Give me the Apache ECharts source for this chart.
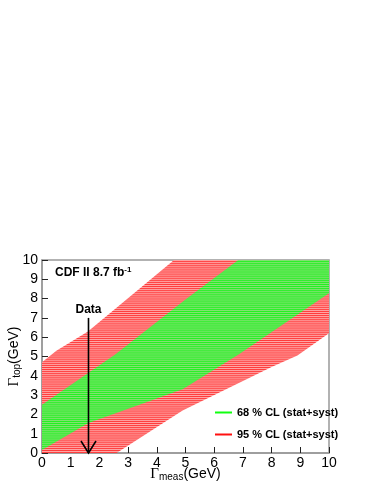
<!DOCTYPE html>
<html>
<head>
<meta charset="utf-8">
<script src="https://cdn.jsdelivr.net/npm/echarts@6/dist/echarts.min.js"></script>
<style>
  html, body { margin: 0; padding: 0; background: #fff; }
  #chart { width: 374px; height: 484px; }
</style>
</head>
<body>
<div id="chart"></div>
<script>
// band edges, as [Γmeas, Γtop] in GeV
var red95Upper = [[0, 4.7], [0.5, 5.3], [1.6, 6.3], [4.6, 10]];
var red95Lower = [[2.6, 0], [4.9, 2.2], [8.0, 4.45], [8.9, 5.05], [10, 6.2]];
var green68Upper = [[0, 2.5], [2.55, 5.1], [5.0, 7.95], [6.84, 10]];
var green68Lower = [[0, 0.15], [1.62, 1.55], [4.9, 3.3], [6.85, 5.1], [10, 8.28]];

// measured width and where the arrow starts
var dataMeas = 1.62;
var dataArrowTop = 7.0;

var axisTicks = [0, 1, 2, 3, 4, 5, 6, 7, 8, 9, 10];

// band outlines (closed polygons)
var redPoly = [[0, 0]].concat(red95Upper, [[10, 10]], red95Lower.slice().reverse());
var greenPoly = green68Upper.concat([[10, 10]], green68Lower.slice().reverse());

// horizontal stripes like the root histogram rows
function stripes(bg, fg) {
    var c = document.createElement('canvas');
    c.width = 4;
    c.height = 193;
    var ctx = c.getContext('2d');
    ctx.fillStyle = bg;
    ctx.fillRect(0, 0, 4, 193);
    ctx.fillStyle = fg;
    for (var y = 0.3; y < 193; y += 1.93) {
        ctx.fillRect(0, y, 4, 1.05);
    }
    return c;
}
var redFill = { image: stripes('#ffb4b4', '#ff3c3c'), repeat: 'repeat' };
var greenFill = { image: stripes('#92e07e', '#22f022'), repeat: 'repeat' };

function bandRender(poly, fill) {
    return function (params, api) {
        return {
            type: 'polygon',
            shape: { points: poly.map(function (p) { return api.coord(p); }) },
            style: { fill: fill, stroke: null }
        };
    };
}

var font = 'Liberation Sans, Arial, sans-serif';
var myChart = echarts.init(document.getElementById('chart'));

var option = {
    animation: false,
    grid: {
        left: 42, right: 45, top: 260, bottom: 31,
        outerBoundsMode: 'none', containLabel: false,
        show: true, borderColor: '#999', borderWidth: 1.5, backgroundColor: 'transparent'
    },
    legend: {
        left: 210, top: 402, orient: 'vertical', itemGap: 11,
        icon: 'rect', itemWidth: 17, itemHeight: 2,
        textStyle: { fontFamily: font, fontWeight: 'bold', fontSize: 11, color: '#000' },
        data: ['68 % CL (stat+syst)', '95 % CL (stat+syst)']
    },
    xAxis: {
        type: 'value', min: 0, max: 10, interval: 1,
        axisLine: { lineStyle: { color: '#999', width: 1.5 } },
        axisTick: { inside: true, length: 6, lineStyle: { color: '#222' } },
        axisLabel: {
            fontFamily: font, fontSize: 14, color: '#000', margin: 3,
            formatter: function (v) { return axisTicks.indexOf(v) >= 0 ? String(v) : ''; }
        },
        splitLine: { show: false },
        name: '{g|Γ}{s|meas}{u|(GeV)}',
        nameLocation: 'middle', nameGap: 13, nameMoveOverlap: false,
        nameTextStyle: {
            rich: {
                g: { fontFamily: 'Liberation Serif, serif', fontSize: 15, color: '#000' },
                s: { fontFamily: font, fontSize: 10, color: '#000', verticalAlign: 'bottom', padding: [6, 0, 0, 0] },
                u: { fontFamily: font, fontSize: 14, color: '#000' }
            }
        }
    },
    yAxis: {
        type: 'value', min: 0, max: 10, interval: 1,
        axisLine: { lineStyle: { color: '#999', width: 1.5 } },
        axisTick: { inside: true, length: 6, lineStyle: { color: '#222' } },
        axisLabel: { fontFamily: font, fontSize: 14, color: '#000', margin: 4 },
        splitLine: { show: false },
        name: '{g|Γ}{s|top}{u|(GeV)}',
        nameLocation: 'middle', nameGap: 20, nameRotate: 90, nameMoveOverlap: false,
        nameTextStyle: {
            rich: {
                g: { fontFamily: 'Liberation Serif, serif', fontSize: 15, color: '#000' },
                s: { fontFamily: font, fontSize: 10, color: '#000', verticalAlign: 'bottom', padding: [6, 0, 0, 0] },
                u: { fontFamily: font, fontSize: 14, color: '#000' }
            }
        }
    },
    series: [
        {
            name: '95 % CL (stat+syst)', type: 'custom', data: [[0, 0]],
            itemStyle: { color: '#ff1010' },
            renderItem: bandRender(redPoly, redFill), clip: true, z: 1
        },
        {
            name: '68 % CL (stat+syst)', type: 'custom', data: [[0, 0]],
            itemStyle: { color: '#10ff10' },
            renderItem: bandRender(greenPoly, greenFill), clip: true, z: 2
        },
        {
            name: 'Data', type: 'custom', data: [[dataMeas, dataArrowTop]], z: 5,
            renderItem: function (params, api) {
                var top = api.coord([dataMeas, dataArrowTop]);
                var bot = api.coord([dataMeas, 0]);
                var st = { stroke: '#000', lineWidth: 1.6, fill: null };
                return {
                    type: 'group',
                    children: [
                        { type: 'line', shape: { x1: top[0], y1: top[1], x2: bot[0], y2: bot[1] }, style: st },
                        { type: 'polyline', shape: { points: [[bot[0] - 7.5, bot[1] - 12], [bot[0], bot[1]], [bot[0] + 7.5, bot[1] - 12]] }, style: st },
                        {
                            type: 'text', x: top[0], y: top[1] - 2,
                            style: { text: 'Data', font: 'bold 12px ' + font, fill: '#000', align: 'center', verticalAlign: 'bottom' }
                        }
                    ]
                };
            }
        }
    ],
    graphic: [
        {
            type: 'text', left: 55, top: 266,
            style: {
                text: '{a|CDF II 8.7 fb}{b|-1}',
                rich: {
                    a: { fontFamily: font, fontWeight: 'bold', fontSize: 12, fill: '#000' },
                    b: { fontFamily: font, fontWeight: 'bold', fontSize: 8, fill: '#000', verticalAlign: 'top', padding: [0, 0, 6, 0] }
                }
            }
        }
    ]
};

myChart.setOption(option);
</script>
</body>
</html>
